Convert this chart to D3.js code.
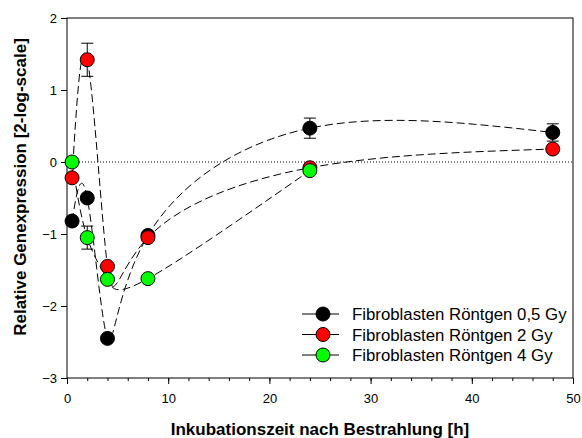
<!DOCTYPE html>
<html>
<head>
<meta charset="utf-8">
<script src="https://cdn.jsdelivr.net/npm/d3@7"></script>
<style>
  body { margin: 0; background: #fff; }
  text { font-family: Arial, "Liberation Sans", sans-serif; }
</style>
</head>
<body>
<div id="chart"></div>
<script>
// Inkubationszeit [h]
const timesBlack = [0.5, 2, 4, 8, 24, 48];
const timesRed = [0.5, 2, 4, 8, 24, 48];
const timesGreen = [0.5, 2, 4, 8, 24];

const valuesBlack = [-0.82, -0.5, -2.45, -1.02, 0.47, 0.41];
const valuesRed = [-0.22, 1.42, -1.45, -1.05, -0.08, 0.18];
const valuesGreen = [0.0, -1.05, -1.63, -1.62, -0.12];

// error bars: [time, value, error]
const errBlack = [[24, 0.47, 0.14], [48, 0.41, 0.12]];
const errRed = [[2, 1.42, 0.23]];
const errGreen = [[2, -1.05, 0.16]];

const seriesNames = ["Fibroblasten Röntgen 0,5 Gy", "Fibroblasten Röntgen 2 Gy", "Fibroblasten Röntgen 4 Gy"];
const seriesColors = ["#000000", "#ff0000", "#00ff00"];

const xTicks = [0, 10, 20, 30, 40, 50];
const yTicks = [-3, -2, -1, 0, 1, 2];

const width = 582, height = 438;
const svg = d3.select("#chart").append("svg")
    .attr("width", width)
    .attr("height", height);

const x = d3.scaleLinear().domain([0, 50]).range([67, 573]);
const y = d3.scaleLinear().domain([-3, 2]).range([378, 18]);

// frame
svg.append("rect")
    .attr("x", x(0)).attr("y", y(2))
    .attr("width", x(50) - x(0)).attr("height", y(-3) - y(2))
    .attr("fill", "none").attr("stroke", "#000").attr("stroke-width", 1);

// x axis: minor + major ticks
const xAxis = svg.append("g").attr("transform", `translate(0,${y(-3)})`);
xAxis.call(d3.axisBottom(x).tickValues(d3.range(0, 51, 2)).tickSize(3).tickFormat(""))
    .call(g => g.select(".domain").remove());
xAxis.append("g").call(d3.axisBottom(x).tickValues(xTicks).tickSize(6).tickPadding(10).tickFormat(d3.format("d")))
    .call(g => g.select(".domain").remove())
    .call(g => g.selectAll("text").attr("font-size", 13).attr("fill", "#000")
        .style("font-family", "Arial, 'Liberation Sans', sans-serif"));

const yAxis = svg.append("g").attr("transform", `translate(${x(0)},0)`);
yAxis.call(d3.axisLeft(y).tickValues(yTicks).tickSize(6).tickPadding(4).tickFormat(d3.format("d")))
    .call(g => g.select(".domain").remove())
    .call(g => g.selectAll("text").attr("font-size", 13).attr("fill", "#000")
        .style("font-family", "Arial, 'Liberation Sans', sans-serif"));

svg.selectAll(".tick line").attr("stroke", "#000");

// axis titles
svg.append("text")
    .attr("x", 320).attr("y", 435)
    .attr("text-anchor", "middle")
    .attr("font-size", 17).attr("font-weight", "bold")
    .text("Inkubationszeit nach Bestrahlung [h]");

svg.append("text")
    .attr("transform", "translate(26,187) rotate(-90)")
    .attr("text-anchor", "middle")
    .attr("font-size", 17).attr("font-weight", "bold")
    .text("Relative Genexpression [2-log-scale]");

// zero reference line
svg.append("line")
    .attr("x1", x(0)).attr("x2", x(50))
    .attr("y1", y(0)).attr("y2", y(0))
    .attr("stroke", "#000").attr("stroke-width", 1)
    .attr("stroke-dasharray", "1,2");

const series = [
    { times: timesBlack, values: valuesBlack, errs: errBlack },
    { times: timesRed, values: valuesRed, errs: errRed },
    { times: timesGreen, values: valuesGreen, errs: errGreen }
];

const line = d3.line()
    .x(d => x(d[0]))
    .y(d => y(d[1]))
    .curve(d3.curveNatural);

// curves
series.forEach(s => {
    const pts = s.times.map((t, i) => [t, s.values[i]]);
    svg.append("path")
        .datum(pts)
        .attr("d", line)
        .attr("fill", "none")
        .attr("stroke", "#000")
        .attr("stroke-width", 1)
        .attr("stroke-dasharray", "8,4");
});

// error bars
series.forEach(s => {
    const g = svg.append("g");
    s.errs.forEach(e => {
        const cx = x(e[0]);
        g.append("line")
            .attr("x1", cx).attr("x2", cx)
            .attr("y1", y(e[1] - e[2])).attr("y2", y(e[1] + e[2]))
            .attr("stroke", "#000");
        [e[1] - e[2], e[1] + e[2]].forEach(v => {
            g.append("line")
                .attr("x1", cx - 6).attr("x2", cx + 6)
                .attr("y1", y(v)).attr("y2", y(v))
                .attr("stroke", "#000");
        });
    });
});

// markers
series.forEach((s, k) => {
    svg.append("g").selectAll("circle")
        .data(s.times.map((t, i) => [t, s.values[i]]))
        .enter().append("circle")
        .attr("cx", d => x(d[0]))
        .attr("cy", d => y(d[1]))
        .attr("r", 7)
        .attr("fill", seriesColors[k])
        .attr("stroke", "#000")
        .attr("stroke-width", 1);
});

// legend
const legend = svg.append("g");
seriesNames.forEach((name, i) => {
    const ly = 314 + i * 20.5;
    legend.append("line")
        .attr("x1", 302).attr("x2", 339)
        .attr("y1", ly).attr("y2", ly)
        .attr("stroke", "#000");
    legend.append("circle")
        .attr("cx", 323).attr("cy", ly).attr("r", 7)
        .attr("fill", seriesColors[i]).attr("stroke", "#000");
    legend.append("text")
        .attr("x", 352).attr("y", ly + 6)
        .attr("font-size", 16.8)
        .text(name);
});
</script>
</body>
</html>
